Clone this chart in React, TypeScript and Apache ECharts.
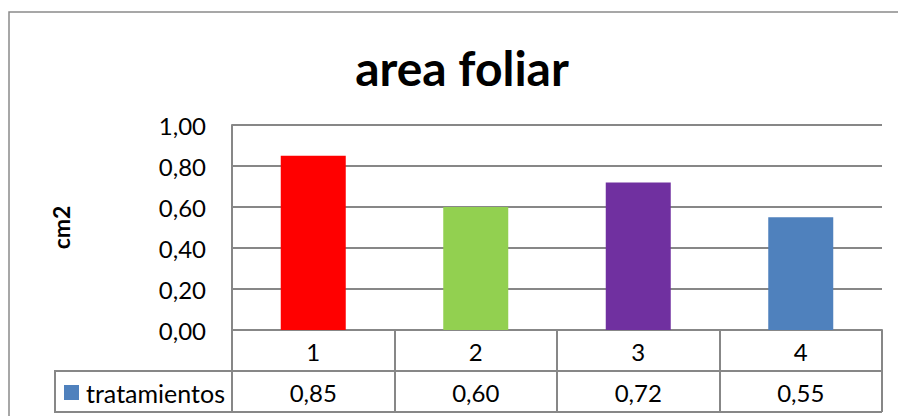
import React, { useEffect, useRef } from "react";
import * as echarts from "echarts";

const categories = ["1", "2", "3", "4"];
const values = [0.85, 0.6, 0.72, 0.55];
const barColors = ["#FF0000", "#92D050", "#7030A0", "#4F81BD"];
const seriesName = "tratamientos";
const yTicks = { min: 0, max: 1, interval: 0.2 };
const titleText = "area foliar";
const yAxisName = "cm2";

const fmt = (v: number) => v.toFixed(2).replace(".", ",");
const FONT = "Lato";
const GRAY = "#878787";

export default function App() {
  const ref = useRef<HTMLDivElement>(null);
  useEffect(() => {
    if (!ref.current) return;
    const chart = echarts.init(ref.current, null, { renderer: "svg" });
    const gridLeft = 232, gridTop = 125, gridW = 650, gridH = 205;
    const gridBottom = gridTop + gridH;
    const row1 = gridBottom + 41, row2 = gridBottom + 82;
    const tableLeft = 55;
    chart.setOption({
      animation: false,
      backgroundColor: "#ffffff",
      title: {
        text: titleText,
        left: 462,
        top: 43,
        padding: 0,
        textAlign: "center",
        textStyle: { fontFamily: FONT, fontWeight: "bold", fontSize: 48, color: "#000" },
      },
      legend: {
        data: [seriesName],
        left: 64,
        top: 380,
        padding: 0,
        itemWidth: 15,
        itemHeight: 15,
        icon: "rect",
        itemGap: 0,
        textStyle: { fontFamily: FONT, fontSize: 25, color: "#000", padding: [0, 0, 0, 2] },
      },
      grid: { left: gridLeft, top: gridTop, width: gridW, height: gridH, containLabel: false },
      xAxis: [
        {
          type: "category",
          data: categories,
          position: "bottom",
          axisLine: { show: true, lineStyle: { color: GRAY, width: 2 } },
          axisTick: { show: true, interval: 0, length: 82, lineStyle: { color: GRAY, width: 2 } },
          axisLabel: { fontFamily: FONT, fontSize: 24, color: "#000", margin: 9, interval: 0 },
        },
        {
          type: "category",
          data: values.map(fmt),
          position: "bottom",
          offset: 41,
          axisLine: { show: false },
          axisTick: { show: false },
          axisLabel: { fontFamily: FONT, fontSize: 24, color: "#000", margin: 9, interval: 0 },
        },
      ],
      yAxis: {
        type: "value",
        min: yTicks.min,
        max: yTicks.max,
        interval: yTicks.interval,
        name: yAxisName,
        nameLocation: "middle",
        nameGap: 160,
        nameTextStyle: { fontFamily: FONT, fontWeight: "bold", fontSize: 23, color: "#000" },
        axisLine: { show: true, lineStyle: { color: GRAY, width: 2 } },
        axisTick: { show: false },
        splitLine: { show: true, lineStyle: { color: GRAY, width: 2 } },
        axisLabel: { fontFamily: FONT, fontSize: 24, color: "#000", margin: 26, formatter: (v: number) => fmt(v) },
      },
      series: [
        {
          name: seriesName,
          type: "bar",
          xAxisIndex: 0,
          barWidth: "40%",
          itemStyle: { color: barColors[3] },
          data: values.map((v, i) => ({ value: v, itemStyle: { color: barColors[i] } })),
        },
      ],
      graphic: [
        {
          type: "rect",
          shape: { x: 9, y: 12, width: 1000, height: 500 },
          style: { fill: "none", stroke: "#8a8a8a", lineWidth: 1.5 },
          silent: true,
        },
        {
          type: "polyline",
          shape: { points: [[gridLeft + gridW, row1], [tableLeft, row1], [tableLeft, row2], [gridLeft + gridW, row2]] },
          style: { fill: "none", stroke: GRAY, lineWidth: 2 },
          silent: true,
        },
      ],
    });
    return () => chart.dispose();
  }, []);
  return (
    <div
      ref={ref}
      style={{ position: "absolute", left: 0, top: 0, width: 898, height: 416 }}
    />
  );
}
